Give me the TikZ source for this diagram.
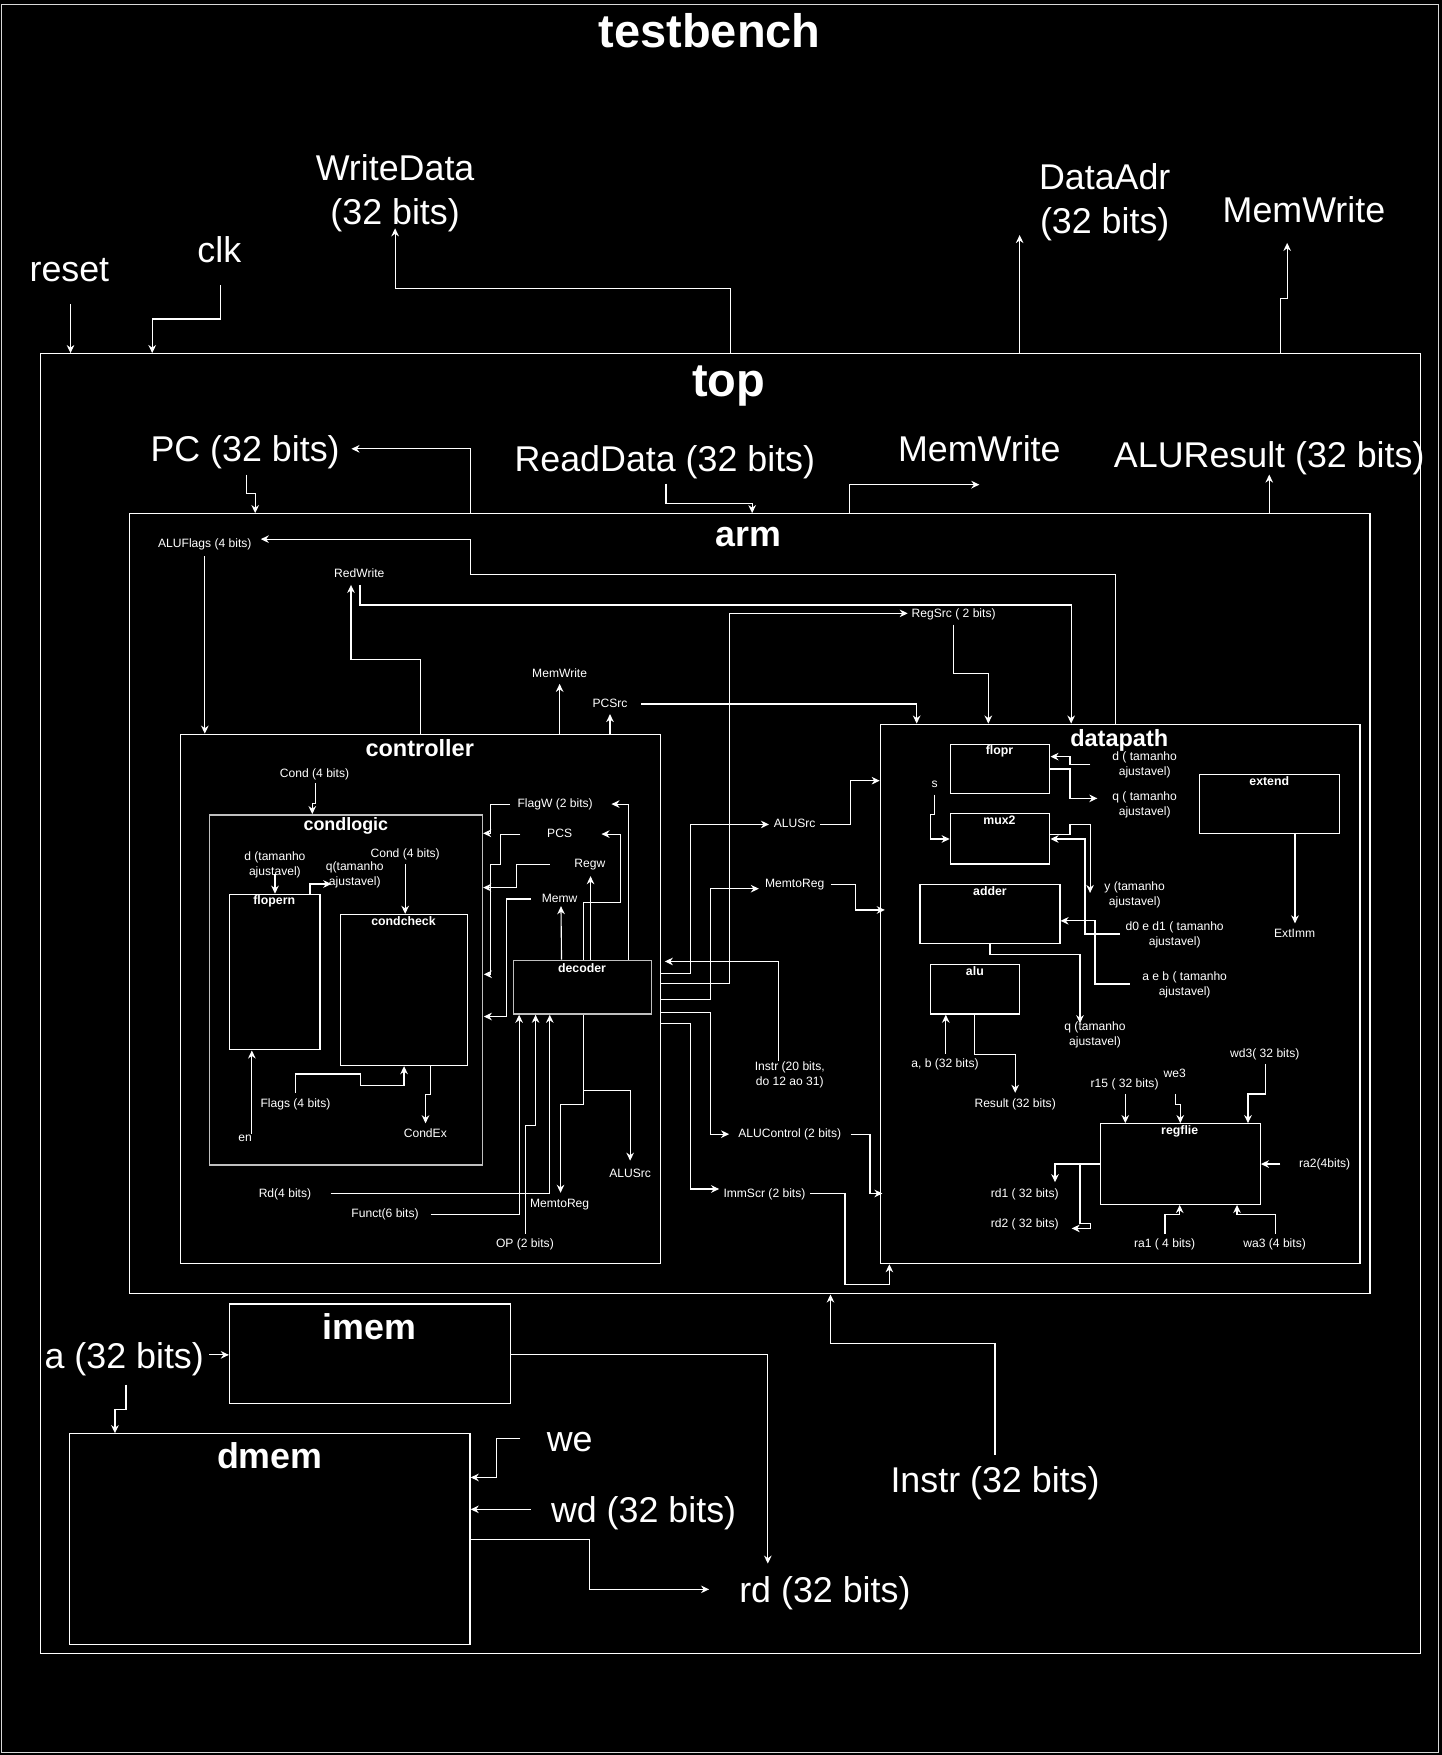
\documentclass[tikz,border=0pt]{standalone}
\usepackage{fontspec}
\setmainfont{Liberation Sans}
\usetikzlibrary{arrows.meta,fit}
\begin{document}
\begin{tikzpicture}[x=0.5pt,y=-0.5pt,
  every node/.style={text=white, inner sep=0pt, align=center},
  ln/.style={draw=white, line width=0.5pt},
  arr/.style={draw=white, line width=0.5pt, -{Stealth[length=3.6pt,width=3.4pt]}},
  box/.style={draw=white, line width=0.55pt, inner sep=0pt},
  gbox/.style={draw=white!75!black, line width=0.65pt, inner sep=0pt},
  big/.style={font=\fontsize{16}{19.5}\selectfont, text depth=3.4pt, yshift=-1.6pt},
  sm/.style={font=\fontsize{5.4}{6.7}\selectfont, text depth=1.13pt, yshift=-0.55pt},
  tA/.style={font=\fontsize{21}{25}\selectfont\bfseries, text depth=4.4pt, yshift=-2.1pt},
  tB/.style={font=\fontsize{16}{19}\selectfont\bfseries, text depth=3.4pt, yshift=-1.6pt},
  tC/.style={font=\fontsize{10.5}{12}\selectfont\bfseries, text depth=2.2pt, yshift=-1.05pt},
  tD/.style={font=\fontsize{8}{9.6}\selectfont\bfseries, text depth=1.7pt, yshift=-0.8pt},
  tE/.style={font=\fontsize{5.5}{6.6}\selectfont\bfseries, text depth=1.15pt, yshift=-0.55pt},
]
\fill[black] (0,0) rectangle (1288,1568);

% ---------- boxes ----------
\node[box, draw=white!85!black, fit={(1.5,4) (1285.5,1566)}] (tb) {};
\node[box, fit={(36,316) (1269,1477)}] (top) {};
\node[box, fit={(116,459) (1224,1156)}] (arm) {};
\node[box, fit={(161,656) (590,1129)}] (ctrl) {};
\node[box, fit={(786.5,647) (1215,1129)}] (dp) {};
\node[gbox, fit={(187,728) (431,1041)}] (clog) {};
\node[box, fit={(205,799) (286,938)}] (flopern) {};
\node[box, fit={(304,817) (418,952)}] (ccheck) {};
\node[gbox, fit={(459,858) (582,906)}] (dec) {};
\node[box, fit={(849,665) (938,709)}] (flopr) {};
\node[box, fit={(849,727) (938,772)}] (mux) {};
\node[box, fit={(822,790) (947,843)}] (adder) {};
\node[box, fit={(831,862) (911,906)}] (alu) {};
\node[box, fit={(1072,692) (1197,745)}] (ext) {};
\node[box, fit={(983,1004) (1126,1076)}] (rf) {};
\node[box, fit={(205,1165) (456,1254)}] (imem) {};
\node[box, fit={(62,1281) (420,1469)}] (dmem) {};

% ---------- titles ----------
\node[tA] (tbT) at (634,27) {testbench};
\node[tA] (topT) at (651,340.5) {top};
\node[tB] (armT) at (669,480) {arm};
\node[tC] (ctrlT) at (375,668) {controller};
\node[tC] (dpT) at (1000,659) {datapath};
\node[tD] (clogT) at (309,736) {condlogic};
\node[tE] (flopernT) at (245,804) {flopern};
\node[tE] (ccheckT) at (360.5,822.5) {condcheck};
\node[tE] (decT) at (520,865) {decoder};
\node[tE] (floprT) at (893,670.5) {flopr};
\node[tE] (muxT) at (893,733) {mux2};
\node[tE] (adderT) at (884.5,796) {adder};
\node[tE] (aluT) at (871,867.5) {alu};
\node[tE] (extT) at (1134,697.5) {extend};
\node[tE] (rfT) at (1054,1010) {regflie};
\node[tB] (imemT) at (330,1185) {imem};
\node[tB] (dmemT) at (241,1301) {dmem};

% ---------- big labels ----------
\node[big] (wdata) at (353,169.5) {WriteData\\(32 bits)};
\node[big] (dadr) at (987,177.5) {DataAdr\\(32 bits)};
\node[big] (mw0) at (1165,187) {MemWrite};
\node[big] (reset) at (62,241) {reset};
\node[big] (clk) at (196,223) {clk};
\node[big] (pc) at (219,401) {PC (32 bits)};
\node[big] (rdata) at (594,410) {ReadData (32 bits)};
\node[big] (mw1) at (875,401) {MemWrite};
\node[big] (alur) at (1134,406) {ALUResult (32 bits)};
\node[big] (aaddr) at (111,1211) {a (32 bits)};
\node[big] (we) at (509,1288) {we};
\node[big] (wdd) at (575,1348.5) {wd (32 bits)};
\node[big] (rdo) at (737,1420) {rd (32 bits)};
\node[big] (instr) at (889,1322) {Instr (32 bits)};

% ---------- small labels (arm / controller) ----------
\node[sm] (alf) at (183,485) {ALUFlags (4 bits)};
\node[sm] (redw) at (321,512) {RedWrite};
\node[sm] (mwsm) at (500,601) {MemWrite};
\node[sm] (pcsrc) at (545,628) {PCSrc};
\node[sm] (regsrc) at (852,548) {RegSrc ( 2 bits)};
\node[sm] (cond1) at (281,691) {Cond (4 bits)};
\node[sm] (dlab) at (245.6,772) {d (tamanho\\ajustavel)};
\node[sm] (qlab) at (317,781) {q(tamanho\\ajustavel)};
\node[sm] (cond2) at (362,762) {Cond (4 bits)};
\node[sm] (flags) at (264,986) {Flags (4 bits)};
\node[sm] (en) at (219,1017) {en};
\node[sm] (condex) at (380,1012.5) {CondEx};
\node[sm] (flagw) at (496,718) {FlagW (2 bits)};
\node[sm] (pcs) at (500,744.5) {PCS};
\node[sm] (regw) at (527,771) {Regw};
\node[sm] (memw) at (500,802.6) {Memw};
\node[sm] (rdl) at (254.6,1066) {Rd(4 bits)};
\node[sm] (funct) at (344,1084) {Funct(6 bits)};
\node[sm] (op) at (469,1110.4) {OP (2 bits)};
\node[sm] (mtr1) at (500,1075.4) {MemtoReg};
\node[sm] (alusrc1) at (563,1048) {ALUSrc};
\node[sm] (alusrc2) at (710,736) {ALUSrc};
\node[sm] (mtr2) at (710,789) {MemtoReg};
\node[sm] (instr20) at (705.6,959) {Instr (20 bits,\\do 12 ao 31)};
\node[sm] (aluc) at (705.6,1012.5) {ALUControl (2 bits)};
\node[sm] (imms) at (683,1066) {ImmScr (2 bits)};

% ---------- small labels (datapath) ----------
\node[sm] (dd) at (1022.7,682.6) {d ( tamanho\\ajustavel)};
\node[sm] (qq) at (1022.7,718.4) {q ( tamanho\\ajustavel)};
\node[sm] (slab) at (835,700.5) {s};
\node[sm] (yy) at (1013.8,798.7) {y (tamanho\\ajustavel)};
\node[sm] (d01) at (1049.5,834.5) {d0 e d1 ( tamanho\\ajustavel)};
\node[sm] (aeb) at (1058.4,879.1) {a e b ( tamanho\\ajustavel)};
\node[sm] (q2) at (978.3,923.8) {q (tamanho\\ajustavel)};
\node[sm] (ab) at (844.3,950) {a, b (32 bits)};
\node[sm] (res) at (907,985.7) {Result (32 bits)};
\node[sm] (extimm) at (1156.7,833.8) {ExtImm};
\node[sm] (r15) at (1004.8,967.5) {r15 ( 32 bits)};
\node[sm] (we3) at (1049.5,959) {we3};
\node[sm] (wd3) at (1130,941) {wd3( 32 bits)};
\node[sm] (ra2) at (1183.5,1039.3) {ra2(4bits)};
\node[sm] (rd1) at (915.5,1066) {rd1 ( 32 bits)};
\node[sm] (rd2) at (915.5,1093) {rd2 ( 32 bits)};
\node[sm] (ra1) at (1040.5,1110.7) {ra1 ( 4 bits)};
\node[sm] (wa3) at (1138.8,1110.7) {wa3 (4 bits)};

% ---------- testbench <-> top ----------
\draw[arr] (63,272) -- (63,0 |- top.north);
\draw[arr] (197,255) -- (197,285) -- (136,285) -- (136,0 |- top.north);
\draw[arr] (653,0 |- top.north) -- (653,258) -- (353,258) -- (353,204);
\draw[arr] (911,0 |- top.north) -- (911,210);
\draw[arr] (1144,0 |- top.north) -- (1144,267) -- (1150,267) -- (1150,217);

% ---------- top <-> arm ----------
\draw[arr] (420,0 |- arm.north) -- (420,401) -- (314,401);
\draw[arr] (220,424) -- (220,441) -- (228,441) -- (228,0 |- arm.north);
\draw[arr] (595,432) -- (595,450) -- (672,450) -- (672,0 |- arm.north);
\draw[arr] (759,0 |- arm.north) -- (759,433) -- (875,433);
\draw[arr] (1134,0 |- arm.north) -- (1134,424);
\draw[arr] (889,1300) -- (889,1200.5) -- (742,1200.5) -- (742,0 |- arm.south);

% ---------- imem / dmem ----------
\draw[arr] (187,1210.5) -- (imem.west |- 0,1210.5);
\draw[arr] (112.6,1237) -- (112.6,1259) -- (102.7,1259) -- (102.7,0 |- dmem.north);
\draw[arr] (imem.east |- 0,1210) -- (686,1210) -- (686,1397);
\draw[arr] (465,1285.6) -- (443.7,1285.6) -- (443.7,1320) -- (dmem.east |- 0,1320);
\draw[arr] (474,1348.5) -- (dmem.east |- 0,1348.5);
\draw[arr] (dmem.east |- 0,1375.3) -- (526.7,1375.3) -- (526.7,1420) -- (633.5,1420);

% ---------- inside arm ----------
\draw[arr] (997,0 |- dp.north) -- (997,513) -- (420,513) -- (420,481.7) -- (233,481.7);
\draw[arr] (183,497) -- (183,0 |- ctrl.north);
\draw[arr] (375.6,0 |- ctrl.north) -- (375.6,589) -- (313.6,589) -- (313.6,522.6);
\draw[arr] (321.6,522.5) -- (321.6,540.5) -- (957,540.5) -- (957,0 |- dp.north);
\draw[arr] (500,0 |- ctrl.north) -- (500,611);
\draw[arr] (545,0 |- ctrl.north) -- (545,638);
\draw[arr] (573,629) -- (819,629) -- (819,0 |- dp.north);
\draw[arr] (ctrl.east |- 0,879) -- (652,879) -- (652,548) -- (811,548);
\draw[arr] (852,558) -- (852,602) -- (883,602) -- (883,0 |- dp.north);
\draw[arr] (ctrl.east |- 0,870) -- (616.6,870) -- (616.6,736.6) -- (687,736.6);
\draw[arr] (733,736.6) -- (760,736.6) -- (760,697.5) -- (dp.west |- 0,697.5);
\draw[arr] (ctrl.east |- 0,892.8) -- (634.5,892.8) -- (634.5,794) -- (678,794);
\draw[arr] (742,790) -- (764,790) -- (764,813) -- (790.5,813);
\draw[arr] (ctrl.east |- 0,904.8) -- (634.5,904.8) -- (634.5,1013.3) -- (651.4,1013.3);
\draw[arr] (760,1013.3) -- (777.3,1013.3) -- (777.3,1066.3) -- (788.4,1066.3);
\draw[arr] (ctrl.east |- 0,914.8) -- (616.6,914.8) -- (616.6,1062.3) -- (642.5,1062.3);
\draw[arr] (724,1066.5) -- (755,1066.5) -- (755,1147.7) -- (794.6,1147.7) -- (794.6,0 |- dp.south);
\draw[arr] (695.5,948) -- (695.5,859) -- (594,859);

% ---------- inside controller ----------
\draw[arr] (282,700) -- (282,718) -- (279,718) -- (279,0 |- clog.north);
\draw[arr] (245.7,781) -- (245.7,0 |- flopern.north);
\draw[arr] (277,0 |- flopern.north) -- (277,789.8) -- (296,789.8);
\draw[arr] (362,772.3) -- (362,0 |- ccheck.north);
\draw[arr] (264,976.4) -- (264,959.5) -- (322,959.5) -- (322,970) -- (361,970) -- (361,0 |- ccheck.south);
\draw[arr] (225,1013) -- (225,0 |- flopern.south);
\draw[arr] (384.7,0 |- ccheck.south) -- (384.7,978) -- (380.2,978) -- (380.2,1003.6);
\draw[arr] (561.8,0 |- dec.north) -- (561.8,718.4) -- (546.3,718.4);
\draw[arr] (521,0 |- dec.north) -- (521,806.4) -- (554.4,806.4) -- (554.4,745.2) -- (537.4,745.2);
\draw[arr] (527.6,0 |- dec.north) -- (527.6,782.8);
\draw[arr] (501.7,0 |- dec.north) -- (501.2,809.6);
\draw[arr] (455.5,718.4) -- (438.3,718.4) -- (438.3,744.5) -- (clog.east |- 0,744.5);
\draw[arr] (465,745.2) -- (447.2,745.2) -- (447.2,772) -- (438.3,772) -- (438.3,870.5) -- (432.3,870.5);
\draw[arr] (491.2,772) -- (461.5,772) -- (461.5,793) -- (clog.east |- 0,793);
\draw[arr] (474,803.2) -- (452.5,803.2) -- (452.5,908.2) -- (432.3,908.2);
\draw[arr] (295.4,1066.7) -- (491.2,1066.7) -- (491.2,0 |- dec.south);
\draw[arr] (384.7,1085) -- (463.8,1085) -- (463.8,0 |- dec.south);
\draw[arr] (469.5,1102.4) -- (469.5,1005.2) -- (478.5,1005.2) -- (478.5,0 |- dec.south);
\draw[arr] (521,0 |- dec.south) -- (521,987) -- (500.8,987) -- (500.8,1065.7);
\draw[arr] (521,974) -- (563,974) -- (563,1037);

% ---------- inside datapath ----------
\draw[arr] (974.2,683) -- (956,683) -- (956,676) -- (flopr.east |- 0,676);
\draw[arr] (flopr.east |- 0,687) -- (956,687) -- (956,713.3) -- (980.4,713.3);
\draw[arr] (835,710) -- (835,727.6) -- (831,727.6) -- (831,749.6) -- (mux.west |- 0,749.6);
\draw[arr] (mux.east |- 0,745.2) -- (956,745.2) -- (956,736.6) -- (973.9,736.6) -- (973.9,797.8);
\draw[arr] (1000.4,834.5) -- (969.4,834.5) -- (969.4,749.6) -- (mux.east |- 0,749.6);
\draw[arr] (1009.3,879.1) -- (978.3,879.1) -- (978.3,822.7) -- (adder.east |- 0,822.7);
\draw[arr] (884.5,0 |- adder.south) -- (884.5,852.7) -- (964.9,852.7) -- (964.9,914.2);
\draw[arr] (845,941.3) -- (845,0 |- alu.south);
\draw[arr] (871,0 |- alu.south) -- (871,942) -- (907,942) -- (907,976.4);
\draw[arr] (1157,0 |- ext.south) -- (1157,825);
\draw[arr] (1005.4,977.4) -- (1005.4,0 |- rf.north);
\draw[arr] (1050,977.4) -- (1050,986.6) -- (1054.5,986.6) -- (1054.5,0 |- rf.north);
\draw[arr] (1130.5,950.6) -- (1130.5,977.4) -- (1115,977.4) -- (1115,0 |- rf.north);
\draw[arr] (1144,1040) -- (rf.east |- 0,1040);
\draw[arr] (rf.west |- 0,1040) -- (942.6,1040) -- (942.6,1056.2);
\draw[arr] (964.9,1040) -- (964.9,1093.5) -- (973.9,1093.5) -- (973.9,1097.5) -- (957.5,1097.5);
\draw[arr] (1040.8,1102.4) -- (1040.8,1085) -- (1054,1085) -- (1054,0 |- rf.south);
\draw[arr] (1139.4,1102.4) -- (1139.4,1085) -- (1105.2,1085) -- (1105.2,0 |- rf.south);
\end{tikzpicture}
\end{document}
